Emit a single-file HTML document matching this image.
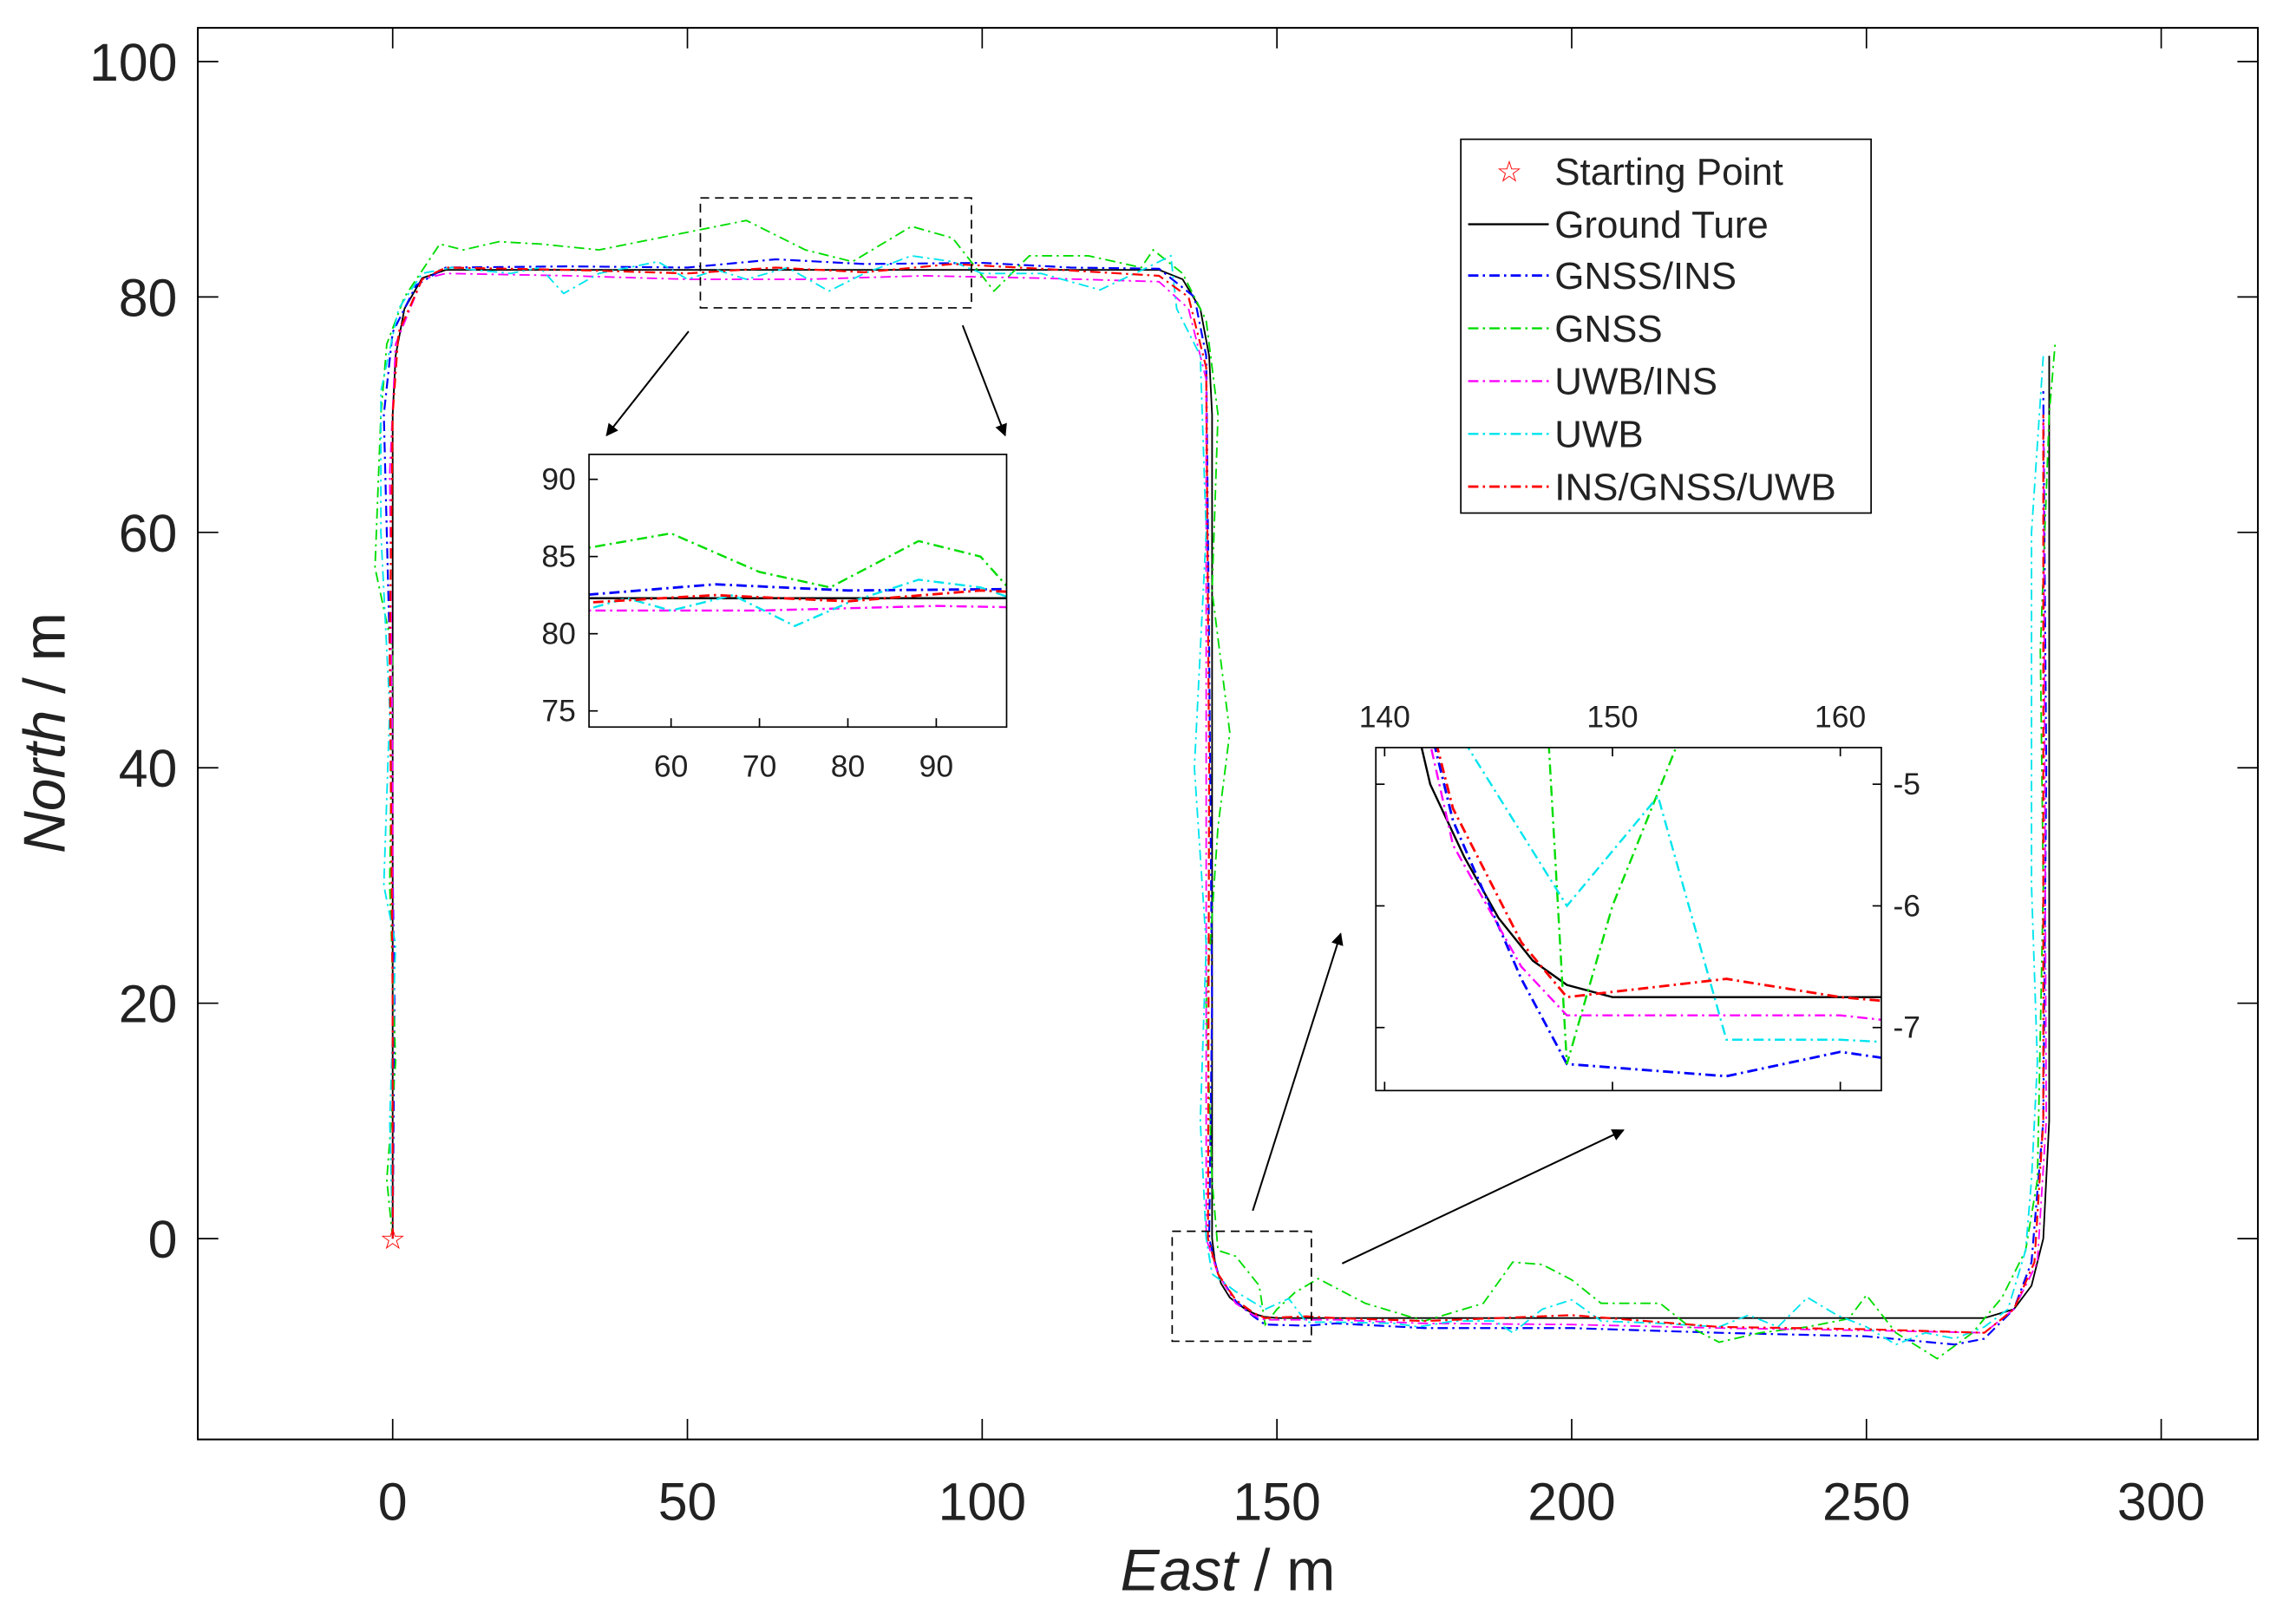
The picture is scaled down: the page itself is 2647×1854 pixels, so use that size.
<!DOCTYPE html>
<html><head><meta charset="utf-8"><style>
html,body{margin:0;padding:0;background:#fff;overflow:hidden;width:2647px;height:1854px}
svg{display:block}
text{font-family:"Liberation Sans",Arial,sans-serif;fill:#222}
</style></head><body>
<svg id="chart" width="2647" height="1854" viewBox="0 0 1567 1097" preserveAspectRatio="none" xmlns="http://www.w3.org/2000/svg">
<defs>
<clipPath id="cMain"><rect x="135" y="19" width="1406" height="963"/></clipPath>
<clipPath id="cIn1"><rect x="402" y="310" width="285" height="186"/></clipPath>
<clipPath id="cIn2"><rect x="939" y="510" width="345" height="234"/></clipPath>
<marker id="arr" viewBox="0 0 10 10" refX="9" refY="5" markerWidth="7" markerHeight="7" orient="auto"><path d="M0,0 L10,5 L0,10 z" fill="#000"/></marker>
</defs>
<g id="root"></g>
</svg>
<script>
const seriesNames=["Ground Ture","GNSS/INS","GNSS","UWB/INS","UWB","INS/GNSS/UWB"];
const xTicks=[0,50,100,150,200,250,300];
const yTicks=[0,20,40,60,80,100];
const truth=[[0,0],[0,70],[0.5,75],[2,79],[5,81.6],[9,82.3],[130,82.3],[134,81.5],[137,79],[138.5,75],[139,70],[139,0],[139.5,-2],[140.5,-3.8],[142,-5],[143.5,-5.6],[145,-6.1],[146.5,-6.45],[148,-6.65],[150,-6.75],[270,-6.75],[275,-6],[278,-4],[280,0],[281,10],[281,75]];
const gnssIns=[[0,0],[0.3,20],[-0.5,50],[-1.5,70],[0,77],[4,81],[9,82.5],[30,82.6],[50,82.5],[65,83.2],[80,82.8],[100,82.9],[115,82.5],[130,82.4],[136,80],[138,75],[138.5,50],[139,20],[138.5,0],[140,-3],[143,-5.3],[146,-6.6],[148,-7.3],[155,-7.4],[160,-7.2],[175,-7.6],[200,-7.6],[225,-8],[250,-8.3],[265,-9],[270,-8.5],[275,-6],[278,-2],[280,10],[280.5,40],[280,72]];
const gnss=[[0,0],[-1,5],[0.5,15],[-0.5,30],[0,50],[-3,57],[-2,70],[-1,76],[2,80],[8,84.5],[12,84],[18,84.7],[25,84.5],[35,84],[45,85],[60,86.5],[70,84],[78,83],[88,86],[95,85],[102,80.5],[108,83.5],[118,83.5],[127,82.5],[129,84],[134,82],[138,78],[140,70],[139,55],[142,43],[140,35],[138,20],[139,5],[140,-1],[143,-1.5],[147,-4],[148,-7.3],[150,-6],[153,-4.6],[157,-3.4],[165,-5.5],[175,-7],[185,-5.5],[190,-2],[195,-2.2],[200,-3.5],[205,-5.5],[215,-5.5],[220,-7.5],[225,-8.8],[232,-8],[240,-7.5],[247,-6.8],[250,-4.8],[255,-8],[262,-10.2],[268,-8],[273,-5],[277,-1],[279,5],[280,30],[279.5,50],[281,70],[282,76]];
const uwbIns=[[0,0],[0,40],[-0.5,65],[0.5,76],[5,81.5],[9,82],[30,81.8],[50,81.5],[70,81.5],[90,81.8],[110,81.6],[130,81.3],[135,79],[138,73],[138,40],[138,0],[140,-3],[143,-5.5],[146,-6.5],[148,-6.9],[160,-6.9],[175,-7.2],[200,-7.3],[225,-7.6],[250,-7.8],[270,-8],[275,-6],[279,-2],[280.5,10],[280,70]];
const uwb=[[0,0],[-0.5,10],[0.5,25],[-1.5,30],[-0.5,45],[-2,60],[-2,72],[1,79],[5,82],[10,82.5],[20,82],[25,82.5],[29,80.3],[35,82],[45,83],[50,81.5],[55,82.3],[60,81.5],[67,82.5],[74,80.5],[80,82],[88,83.5],[95,83],[100,82],[110,82],[120,80.6],[128,82.5],[132,83.5],[133,79],[137,75],[138,60],[136,40],[138,25],[137,10],[138,0],[139,-3],[143,-4.5],[148,-6],[152,-5.1],[155,-7.1],[160,-7.1],[170,-7.2],[174,-7.5],[180,-7],[187,-7],[190,-8],[195,-6],[200,-5.2],[205,-7],[215,-7.2],[225,-7.5],[230,-6.5],[235,-7.5],[240,-5],[245,-6.5],[250,-7.5],[255,-9],[260,-8],[265,-8.5],[270,-7.5],[274,-6],[277,-1],[278,5],[279,15],[278,30],[278,60],[280,75]];
const fused=[[0,0],[0,20],[-0.5,50],[0,70],[1,77],[5,81.5],[9,82.5],[30,82.3],[50,82],[65,82.5],[80,82.1],[95,82.8],[110,82.4],[130,81.8],[135,80],[138,74],[138.5,40],[138.3,0],[140,-3],[143,-5.2],[146,-6.3],[148,-6.75],[155,-6.6],[160,-6.75],[175,-7],[200,-6.5],[225,-7.5],[250,-7.7],[270,-8],[275,-6],[278.5,-2],[280,10],[280,70]];
const inset1X=[60,70,80,90], inset1Y=[75,80,85,90];
const inset2X=[140,150,160], inset2Y=[-5,-6,-7];

const NS="http://www.w3.org/2000/svg";
const root=document.getElementById('root');
function el(t,a,p){const e=document.createElementNS(NS,t);for(const k in a)e.setAttribute(k,a[k]);(p||root).appendChild(e);return e;}
function lin(d0,d1,p0,p1){return v=>p0+(v-d0)*(p1-p0)/(d1-d0);}
const styles=[
 {c:"#000",d:"none",w:1.1,data:truth},
 {c:"#0000ff",d:"7 3 1.5 3",w:1.3,data:gnssIns},
 {c:"#00dd00",d:"7 3 1.5 3",w:1.1,data:gnss},
 {c:"#ff00ff",d:"7 3 1.5 3",w:1.1,data:uwbIns},
 {c:"#00e5ee",d:"7 3 1.5 3",w:1.1,data:uwb},
 {c:"#ff0000",d:"7 3 1.5 3",w:1.3,data:fused}];
const keys=['ground-truth-line','gnss-ins-line','gnss-line','uwb-ins-line','uwb-line','ins-gnss-uwb-line'];

const X=lin(0,300,268,1475), Y=lin(0,100,845,42);
el('rect',{x:135,y:19,width:1406,height:963,fill:'none',stroke:'#000','stroke-width':1.2,});
xTicks.forEach(v=>{const x=X(v);el('line',{x1:x,y1:982,x2:x,y2:968,stroke:'#000'});el('line',{x1:x,y1:19,x2:x,y2:33,stroke:'#000'});
 const t=el('text',{x:x,y:1037,'text-anchor':'middle','font-size':36});t.textContent=v;});
yTicks.forEach(v=>{const y=Y(v);el('line',{x1:135,y1:y,x2:149,y2:y,stroke:'#000'});el('line',{x1:1541,y1:y,x2:1527,y2:y,stroke:'#000'});
 const t=el('text',{x:121,y:y+13,'text-anchor':'end','font-size':36});t.textContent=v;});
let t=el('text',{x:838,y:1085,'text-anchor':'middle','font-size':40,});t.innerHTML='<tspan font-style="italic">East</tspan> / m';
t=el('text',{x:0,y:0,'text-anchor':'middle','font-size':40,transform:'translate(44,500) rotate(-90)',});t.innerHTML='<tspan font-style="italic">North</tspan> / m';

function drawSeries(g,Xf,Yf,clip,scaleW){
 const gg=el('g',{'clip-path':'url(#'+clip+')'},g);
 styles.forEach((s,i)=>{const d=s.data.map((p,j)=>(j?'L':'M')+Xf(p[0]).toFixed(2)+','+Yf(p[1]).toFixed(2)).join('');
  const p=el('path',{d:d,fill:'none',stroke:s.c,'stroke-width':s.w*scaleW,'stroke-dasharray':s.d},gg);
  
  });
}
drawSeries(root,X,Y,'cMain',1);
const star=el('text',{x:X(0),y:Y(0)+7,'text-anchor':'middle','font-size':20,});star.style.fill='#f00';star.textContent='☆';

el('rect',{x:478,y:135,width:185,height:75,fill:'none',stroke:'#000','stroke-dasharray':'6 4',});
el('rect',{x:800,y:840,width:95,height:75,fill:'none',stroke:'#000','stroke-dasharray':'6 4',});
[[470,226,414,297],[657,222,686,297],[855,826,915,637],[916,862,1108,771]].forEach(a=>{
 const l=el('line',{x1:a[0],y1:a[1],x2:a[2],y2:a[3],stroke:'#000','stroke-width':1.2,'marker-end':'url(#arr)'});
 });

const g1=el('g',{});
el('rect',{x:402,y:310,width:285,height:186,fill:'#fff',stroke:'none'},g1);
const X1=lin(60,90,458,639), Y1=lin(75,90,485,327);
drawSeries(g1,X1,Y1,'cIn1',1.3);
el('rect',{x:402,y:310,width:285,height:186,fill:'none',stroke:'#000'},g1);
inset1X.forEach(v=>{const x=X1(v);el('line',{x1:x,y1:496,x2:x,y2:490,stroke:'#000'},g1);const tt=el('text',{x:x,y:530,'text-anchor':'middle','font-size':21},g1);tt.textContent=v;});
inset1Y.forEach(v=>{const y=Y1(v);el('line',{x1:402,y1:y,x2:408,y2:y,stroke:'#000'},g1);const tt=el('text',{x:393,y:y+7,'text-anchor':'end','font-size':21},g1);tt.textContent=v;});

const g2=el('g',{});
el('rect',{x:939,y:510,width:345,height:234,fill:'#fff',stroke:'none'},g2);
const X2=lin(140,160,945,1256), Y2=lin(-5,-7,535,701);
drawSeries(g2,X2,Y2,'cIn2',1.3);
el('rect',{x:939,y:510,width:345,height:234,fill:'none',stroke:'#000'},g2);
inset2X.forEach(v=>{const x=X2(v);el('line',{x1:x,y1:510,x2:x,y2:516,stroke:'#000'},g2);el('line',{x1:x,y1:744,x2:x,y2:738,stroke:'#000'},g2);const tt=el('text',{x:x,y:496,'text-anchor':'middle','font-size':21},g2);tt.textContent=v;});
inset2Y.forEach(v=>{const y=Y2(v);el('line',{x1:1284,y1:y,x2:1278,y2:y,stroke:'#000'},g2);el('line',{x1:939,y1:y,x2:945,y2:y,stroke:'#000'},g2);const tt=el('text',{x:1292,y:y+7,'text-anchor':'start','font-size':21},g2);tt.textContent=v;});

const lg=el('g',{});
el('rect',{x:997,y:95,width:280,height:255,fill:'#fff',stroke:'#000'},lg);
const ly=[117,153,188,224,260,296,332];
const ls=el('text',{x:1030,y:ly[0]+7,'text-anchor':'middle','font-size':20},lg);ls.style.fill='#f00';ls.textContent='☆';
const lt0=el('text',{x:1061,y:ly[0]+9,'font-size':26},lg);lt0.textContent='Starting Point';
styles.forEach((s,i)=>{const y=ly[i+1];
 el('line',{x1:1002,y1:y,x2:1057,y2:y,stroke:s.c,'stroke-width':s.w*1.3,'stroke-dasharray':s.d},lg);
 const tx=el('text',{x:1061,y:y+9,'font-size':26},lg);tx.textContent=seriesNames[i];
 
 });
</script>
</body></html>
